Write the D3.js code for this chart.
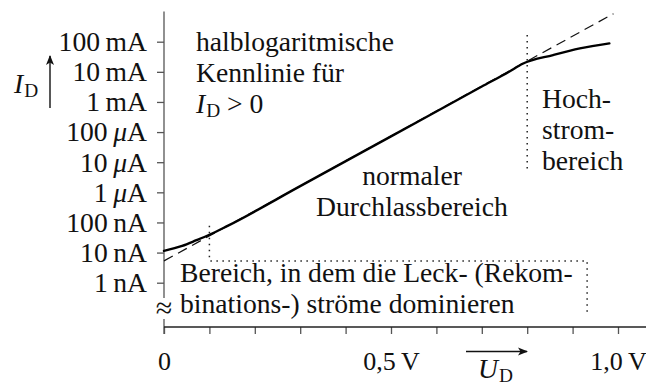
<!DOCTYPE html>
<html>
<head>
<meta charset="utf-8">
<script src="https://cdn.jsdelivr.net/npm/d3@7"></script>
<style>
  html, body { margin: 0; padding: 0; background: #fff; }
  svg { display: block; }
</style>
</head>
<body>
<script>
// Diode forward characteristic, semi-logarithmic (I_D over U_D)

// axis ticks
const voltTicks = [0, 0.1, 0.2, 0.3, 0.4, 0.5, 0.6, 0.7, 0.8, 0.9, 1.0];
const voltLabels = ["0", "", "", "", "", "0,5\u2009V", "", "", "", "", "1,0\u2009V"];
const currentTicks = [1e-9, 1e-8, 1e-7, 1e-6, 1e-5, 1e-4, 1e-3, 1e-2, 1e-1];
const currentLabels = ["1\u2009nA", "10\u2009nA", "100\u2009nA", "1\u2009μA", "10\u2009μA",
                       "100\u2009μA", "1\u2009mA", "10\u2009mA", "100\u2009mA"];

// measured characteristic (U in V, I in A)
const curveU = [0, 0.04, 0.07, 0.1, 0.14, 0.3, 0.5, 0.7, 0.76, 0.79, 0.857, 0.916, 0.981];
const curveI = [1.14e-8, 1.67e-8, 2.52e-8, 3.9e-8, 7.7e-8, 1.6e-6, 7.2e-5, 3.24e-3, 1.01e-2, 1.85e-2, 3.6e-2, 6.0e-2, 8.8e-2];

// ideal exponential (dashed)
const idealU = [0, 0.99];
const idealI = [5.3e-9, 0.85];

// region boundaries (dotted)
const leakBoundU = [0.1, 0.1, 0.932, 0.932];
const leakBoundI = [7.7e-8, 5.3e-9, 5.3e-9, 1e-10];
const highBoundU = [0.8, 0.8];
const highBoundI = [0.167, 5.3e-6];

// axis extent
const uMax = 1.062;
const iTop = 1;

const W = 646, H = 387;
const axisY = 327;       // broken current axis: the voltage axis sits below 1 nA
const tickLen = 7;
const FONT = "'Liberation Serif', 'DejaVu Serif', 'Times New Roman', serif";

const svg = d3.select("body").append("svg").attr("width", W).attr("height", H)
  .attr("font-family", FONT);
svg.append("rect").attr("width", W).attr("height", H).attr("fill", "#fff");

// pick a text size so the serif face sets "halblogaritmische" about 198px wide
const probe = svg.append("text").attr("font-family", FONT).attr("font-size", 26).text("halblogaritmische");
const probeW = probe.node().getComputedTextLength() || 190;
probe.remove();
const FS = Math.max(20, Math.min(28, 26 * 198 / probeW));
const SUB = FS * 0.7;
const TICK_FS = 26;

const x = d3.scaleLinear().domain([0, 1]).range([164, 618]);
const y = d3.scaleLog().domain([1e-9, 1e-1]).range([282.7, 41.7]);

const defs = svg.append("defs");
defs.append("marker").attr("id", "ah").attr("viewBox", "0 0 10 10")
  .attr("refX", 9).attr("refY", 5).attr("markerWidth", 10).attr("markerHeight", 10)
  .attr("markerUnits", "userSpaceOnUse").attr("orient", "auto")
  .append("path").attr("d", "M0,1 L10,5 L0,9 L2.5,5 Z").attr("fill", "#111");

const axisColor = "#555";

// current axis
const yAxis = d3.axisLeft(y).tickValues(currentTicks)
  .tickFormat((d, i) => currentLabels[i]).tickSize(tickLen).tickPadding(10).tickSizeOuter(0);
const gy = svg.append("g").attr("transform", `translate(${x(0)},0)`).call(yAxis)
  .attr("font-family", FONT).attr("font-size", FS);
gy.select(".domain").remove();
gy.selectAll(".tick line").attr("stroke", axisColor).attr("stroke-width", 1.3);
gy.selectAll(".tick text").attr("fill", "#111")
  .each(function(d, i) {
    const t = d3.select(this);
    const parts = currentLabels[i].split("μ");
    t.text(null);
    t.append("tspan").text(parts[0]);
    if (parts.length > 1) {
      t.append("tspan").attr("font-style", "italic").text("μ");
      t.append("tspan").text(parts[1]);
    }
  });
svg.append("line").attr("x1", x(0)).attr("x2", x(0))
  .attr("y1", y(iTop)).attr("y2", axisY + tickLen)
  .attr("stroke", axisColor).attr("stroke-width", 1.3);

// voltage axis
const xAxis = d3.axisBottom(x).tickValues(voltTicks)
  .tickFormat((d, i) => voltLabels[i]).tickSize(tickLen).tickPadding(17.5).tickSizeOuter(0);
const gx = svg.append("g").attr("transform", `translate(0,${axisY})`).call(xAxis)
  .attr("font-family", FONT).attr("font-size", TICK_FS);
gx.select(".domain").remove();
gx.selectAll(".tick line").attr("stroke", axisColor).attr("stroke-width", 1.3);
gx.selectAll(".tick text").attr("fill", "#111");
svg.append("line").attr("x1", x(0)).attr("x2", x(uMax))
  .attr("y1", axisY).attr("y2", axisY)
  .attr("stroke", "#222").attr("stroke-width", 1.4);

// axis break sign
svg.append("rect").attr("x", x(0) - 4).attr("y", 298).attr("width", 8).attr("height", 21).attr("fill", "#fff");
svg.append("text").attr("x", x(0)).attr("y", 318).attr("text-anchor", "middle")
  .attr("font-size", 30).attr("fill", "#111").text("≈");

// region boundaries
const lineGen = d3.line().x(d => x(d[0])).y(d => y(d[1]));
const dotted = (us, is) => svg.append("path")
  .attr("d", lineGen(us.map((u, k) => [u, is[k]])))
  .attr("fill", "none").attr("stroke", "#222").attr("stroke-width", 1.5)
  .attr("stroke-dasharray", "1.5,4.5");
dotted(leakBoundU, leakBoundI);
dotted(highBoundU, highBoundI);

// ideal exponential
svg.append("path")
  .attr("d", lineGen(idealU.map((u, k) => [u, idealI[k]])))
  .attr("fill", "none").attr("stroke", "#111").attr("stroke-width", 1.2)
  .attr("stroke-dasharray", "10,6");

// real characteristic
svg.append("path")
  .attr("d", d3.line().curve(d3.curveMonotoneX).x(d => x(d[0])).y(d => y(d[1]))(curveU.map((u, k) => [u, curveI[k]])))
  .attr("fill", "none").attr("stroke", "#000").attr("stroke-width", 2.4)
  .attr("stroke-linejoin", "round").attr("stroke-linecap", "round");

// symbol with roman subscript, e.g. I_D
const symbol = (t, main, sub) => {
  t.append("tspan").attr("font-style", "italic").text(main);
  t.append("tspan").attr("font-size", SUB).attr("dy", 4).attr("dx", 1).text(sub);
};

// I_D label with arrow
symbol(svg.append("text").attr("x", 14).attr("y", 93).attr("font-size", FS).attr("fill", "#111"), "I", "D");
svg.append("line").attr("x1", 50).attr("x2", 50).attr("y1", 108).attr("y2", 56)
  .attr("stroke", "#111").attr("stroke-width", 1.4).attr("marker-end", "url(#ah)");

// U_D label with arrow
svg.append("line").attr("x1", 466).attr("x2", 527).attr("y1", 351.5).attr("y2", 351.5)
  .attr("stroke", "#111").attr("stroke-width", 1.4).attr("marker-end", "url(#ah)");
symbol(svg.append("text").attr("x", 478).attr("y", 378).attr("font-size", FS).attr("fill", "#111"), "U", "D");

// annotations
const block = (x0, y0, lines, anchor) => {
  lines.forEach((ln, k) => {
    const t = svg.append("text").attr("x", x0).attr("y", y0 + k * 31)
      .attr("font-size", FS).attr("fill", "#111").attr("text-anchor", anchor || "start");
    if (typeof ln === "string") t.text(ln);
    else ln(t);
  });
};
block(196, 51, [
  "halblogaritmische",
  "Kennlinie für",
  t => {
    symbol(t, "I", "D");
    t.append("tspan").attr("dy", -4).text(" > 0");
  }
]);
block(412, 185, ["normaler", "Durchlassbereich"], "middle");
block(542, 108, ["Hoch-", "strom-", "bereich"]);
block(180, 282, ["Bereich, in dem die Leck- (Rekom-", "binations-) ströme dominieren"]);
</script>
</body>
</html>
